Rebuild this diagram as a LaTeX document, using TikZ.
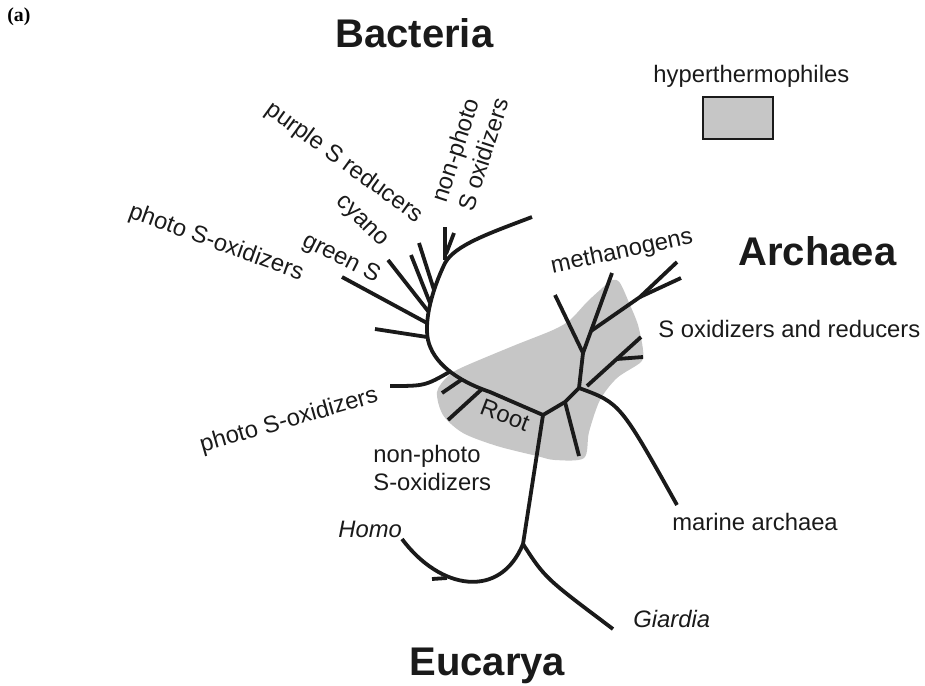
\documentclass[tikz,border=0pt]{standalone}
\usepackage{fontspec}
\setmainfont{Liberation Sans}
\newfontfamily\painelfont{Liberation Serif}
\definecolor{hyper}{HTML}{C6C6C6}
\definecolor{tinta}{HTML}{1A1A1A}

\begin{document}
\begin{tikzpicture}[x=0.5pt, y=-0.5pt,
  rotulo/.style={font=\fontsize{11.9}{14}\selectfont, inner sep=0pt, text=tinta},
  dominio/.style={font=\fontsize{20}{24}\selectfont\bfseries, inner sep=0pt, text=tinta},
  ramo/.style={draw=tinta, line width=1.9pt, line join=round}]
\useasboundingbox (0,0) rectangle (925,685);
% hyperthermophile region
\fill[hyper] plot[smooth cycle, tension=0.5] coordinates {
  (437,392) (448,376) (463,367) (513,346) (553,330) (570,320) (587,302)
  (600,290) (612,280) (620,283) (630,305) (638,325) (643,350) (641,362)
  (617,378) (600,400) (589,432) (584,458) (555,460) (537,456) (497,446)
  (463,433) (443,415)};
% junctions and tips
\coordinate (raiz) at (543,415);
\coordinate (bPonta) at (532,217);
\coordinate (bJ) at (445,263);
\coordinate (bArco) at (428,340);
\coordinate (bFim) at (490,392);
\coordinate (purpura) at (419,243);  \coordinate (t1) at (434,290);
\coordinate (ciano) at (411,255);    \coordinate (t2) at (430,303);
\coordinate (verde) at (388,260);    \coordinate (t3) at (428,311);
\coordinate (fotoA) at (342,277);    \coordinate (t4) at (427,323);
\coordinate (curtoA) at (375,329);   \coordinate (t5) at (427,337);
\coordinate (curtoB) at (445,227);   \coordinate (t6) at (445,260);
\coordinate (curtoC) at (454,233);   \coordinate (t7) at (446,254);
\coordinate (fotoB) at (390,386);    \coordinate (t8) at (451,371);
\coordinate (curtoD) at (442,393);   \coordinate (t9) at (461,380);
\coordinate (curtoE) at (448,420);   \coordinate (t10) at (482,389);
\coordinate (aJ1) at (565,402);
\coordinate (aJ2) at (579,388);
\coordinate (aBaixo) at (579,456);
\coordinate (aJ3) at (583,353);
\coordinate (aTopo) at (612,273);
\coordinate (aEsq) at (555,295);
\coordinate (aJ4) at (591,331);
\coordinate (aJ5) at (640,297);
\coordinate (metA) at (677,262);
\coordinate (metB) at (681,278);
\coordinate (aJ7) at (587,386);
\coordinate (sA) at (641,337);
\coordinate (aJ6) at (617,359);
\coordinate (sB) at (643,357);
\coordinate (marinha) at (677,505);
\coordinate (eJ) at (523,544);
\coordinate (homo) at (402,539);
\coordinate (giardia) at (613,629);
\coordinate (eCurto) at (432,579);
\coordinate (eCurtoJ) at (447,578);
% Bacteria
\draw[ramo] (bPonta) .. controls (490,233) and (455,245) .. (bJ)
  .. controls (432,290) and (424,320) .. (bArco)
  .. controls (433,362) and (455,380) .. (bFim) -- (raiz);
\draw[ramo] (purpura) -- (t1);
\draw[ramo] (ciano) -- (t2);
\draw[ramo] (verde) -- (t3);
\draw[ramo] (fotoA) -- (t4);
\draw[ramo] (curtoA) -- (t5);
\draw[ramo] (curtoB) -- (t6);
\draw[ramo] (curtoC) -- (t7);
\draw[ramo] (fotoB) .. controls (425,386) .. (t8);
\draw[ramo] (curtoD) -- (t9);
\draw[ramo] (curtoE) -- (t10);
% Archaea
\draw[ramo] (raiz) -- (aJ1) -- (aJ2) -- (aJ3) -- (aTopo);
\draw[ramo] (aJ1) -- (aBaixo);
\draw[ramo] (aJ3) -- (aEsq);
\draw[ramo] (aJ4) -- (aJ5) -- (metA);
\draw[ramo] (aJ5) -- (metB);
\draw[ramo] (aJ7) -- (sA);
\draw[ramo] (aJ6) -- (sB);
\draw[ramo] (aJ2) .. controls (620,403) .. (marinha);
% Eucarya
\draw[ramo] (raiz) -- (eJ);
\draw[ramo] (eJ) .. controls (500,600) and (440,590) .. (homo);
\draw[ramo] (eCurto) -- (eCurtoJ);
\draw[ramo] (eJ) .. controls (545,578) .. (giardia);
% legend
\node[draw=tinta, fill=hyper, line width=1pt, minimum width=35pt, minimum height=21pt,
  inner sep=0pt, anchor=north west] (legenda) at (702,96) {};
\node[rotulo, anchor=base west] (hyp) at (653,82) {hyperthermophiles};
% labels
\node[font=\painelfont\fontsize{9.9}{12}\selectfont\bfseries, inner sep=0pt, anchor=base west] (painel) at (7,21) {(a)};
\node[dominio, anchor=base west] (bacteria) at (335,47) {Bacteria};
\node[dominio, anchor=base west] (archaea) at (738,265) {Archaea};
\node[dominio, anchor=base west] (eucarya) at (409,675) {Eucarya};
\node[rotulo, anchor=base west] (soxred) at (658,337) {S oxidizers and reducers};
\node[rotulo, anchor=base west] (marinhatxt) at (672,530) {marine archaea};
\node[rotulo, anchor=base west] (giardiatxt) at (633,627) {\itshape Giardia};
\node[rotulo, anchor=base west] (homotxt) at (338,537) {\itshape Homo};
\node[rotulo, anchor=north west, align=left] (naofotoB) at (373,445) {non-photo\\S-oxidizers};
\node[rotulo, rotate=12] (metano) at (622,252) {methanogens};
\node[rotulo, rotate=-21] (raiztxt) at (505,415) {Root};
\node[rotulo, rotate=-20] (fotoAtxt) at (216,243) {photo S-oxidizers};
\node[rotulo, rotate=16] (fotoBtxt) at (289,421) {photo S-oxidizers};
\node[rotulo, rotate=-36] (purpuratxt) at (344,163) {purple S reducers};
\node[rotulo, rotate=-45] (cianotxt) at (361,222) {cyano};
\node[rotulo, rotate=-27] (verdetxt) at (341,259) {green S};
\node[rotulo, rotate=72, align=left] (naofotoA) at (470,150) {non-photo\\S oxidizers};
\end{tikzpicture}
\end{document}
